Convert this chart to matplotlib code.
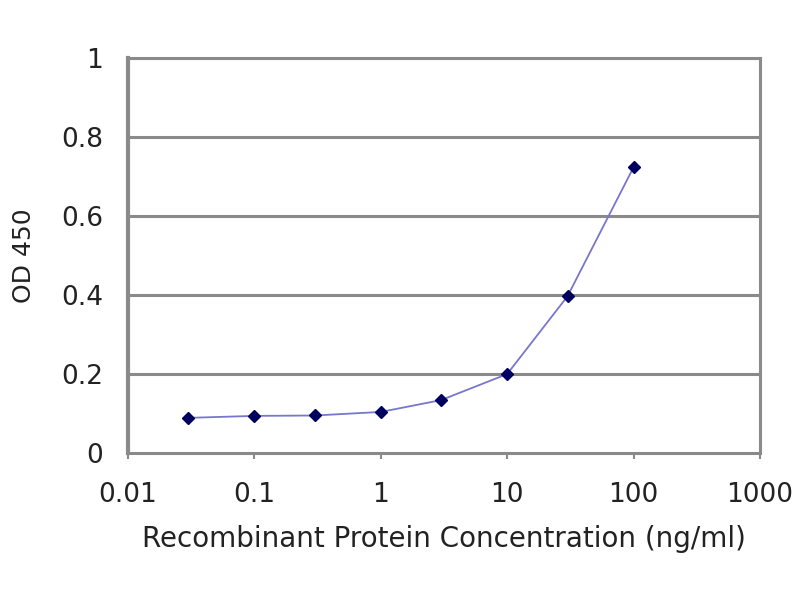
import matplotlib.pyplot as plt

# concentration (ng/ml) vs OD450
conc = [0.03, 0.1, 0.3, 1, 3, 10, 30, 100]
od = [0.089, 0.094, 0.095, 0.104, 0.134, 0.200, 0.397, 0.724]
yticks = [0, 0.2, 0.4, 0.6, 0.8, 1]
xticks = [0.01, 0.1, 1, 10, 100, 1000]
xtick_labels = ["0.01", "0.1", "1", "10", "100", "1000"]

plt.rcParams['font.family'] = ['DejaVu Sans']
grey = "#8a8a8a"

fig = plt.figure(figsize=(8, 6), dpi=100)
ax = fig.add_axes([0.16, 0.245, 0.79, 0.658])

for y in yticks[1:]:
    ax.axhline(y, color=grey, lw=2.2, zorder=1)

ax.plot(conc, od, color="#7777cc", lw=1.3, zorder=2)
ax.plot(conc, od, linestyle="none", marker="D", ms=6, color="#000060", zorder=3)

ax.set_xscale("log")
ax.set_xlim(0.01, 1000)
ax.set_ylim(0, 1)
ax.set_xticks(xticks)
ax.set_xticklabels(xtick_labels)
ax.minorticks_off()
ax.set_yticks(yticks)
ax.set_yticklabels(["0", "0.2", "0.4", "0.6", "0.8", "1"])

for s in ax.spines.values():
    s.set_color(grey)
    s.set_linewidth(2.2)
ax.spines["left"].set_linewidth(3)

ax.tick_params(axis="x", length=4, width=1.5, color=grey, labelsize=19, pad=17, labelcolor="#222222")
ax.tick_params(axis="y", length=0, labelsize=19, pad=18, labelcolor="#222222")

ax.set_xlabel("Recombinant Protein Concentration (ng/ml)", fontsize=20, color="#222222", labelpad=12)
ax.set_ylabel("OD 450", fontsize=18, color="#222222", labelpad=18)

fig.savefig("out.png")
